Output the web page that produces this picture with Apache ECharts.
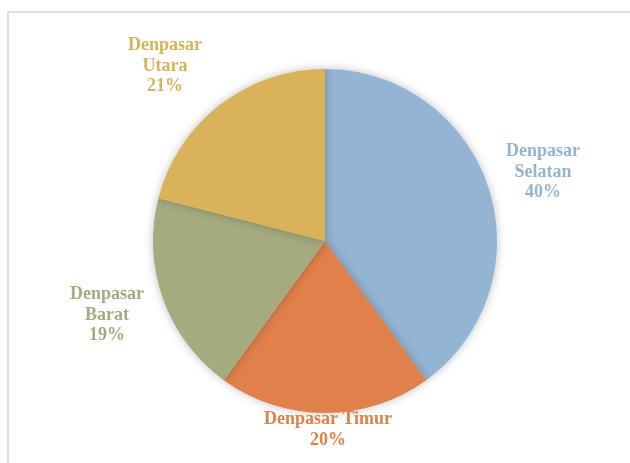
<!DOCTYPE html>
<html>
<head>
<meta charset="utf-8">
<script src="https://cdn.jsdelivr.net/npm/echarts@6/dist/echarts.min.js"></script>
<style>
  html, body { margin: 0; padding: 0; background: #fff; }
  #main { width: 630px; height: 463px; }
</style>
</head>
<body>
<div id="main"></div>
<script>
// data
var regions = ['Denpasar Selatan', 'Denpasar Timur', 'Denpasar Barat', 'Denpasar Utara'];
var labelText = ['Denpasar\nSelatan', 'Denpasar Timur', 'Denpasar\nBarat', 'Denpasar\nUtara'];
var shares = [40, 20, 19, 21];
var colors = ['#93b4d3', '#e0804a', '#a5ab7e', '#d9b25a'];

// where each label block is centred (label styling only)
var labelPos = [[543, 172], [328, 430], [107, 315], [165, 66]];

var chart = echarts.init(document.getElementById('main'));
chart.setOption({
  animation: false,
  color: colors,
  graphic: [{
    type: 'rect',
    shape: { x: 8, y: 12, width: 700, height: 500 },
    style: { fill: 'none', stroke: '#dedede', lineWidth: 2 }
  }],
  series: [{
    type: 'pie',
    center: [325, 241],
    radius: 172,
    startAngle: 90,
    clockwise: true,
    itemStyle: {
      shadowBlur: 10,
      shadowColor: 'rgba(0,0,0,0.25)'
    },
    label: {
      show: true,
      position: 'outside',
      fontFamily: 'Liberation Serif',
      fontWeight: 'bold',
      fontSize: 18,
      lineHeight: 20.5,
      align: 'center',
      color: 'inherit',
      formatter: function (p) {
        return labelText[p.dataIndex] + '\n' + Math.round(p.percent) + '%';
      }
    },
    labelLine: { show: false },
    labelLayout: function (p) {
      var pos = labelPos[p.dataIndex];
      return { x: pos[0], y: pos[1], align: 'center', verticalAlign: 'middle' };
    },
    data: regions.map(function (r, i) {
      return { name: r, value: shares[i], label: { color: colors[i] } };
    })
  }]
});
</script>
</body>
</html>
